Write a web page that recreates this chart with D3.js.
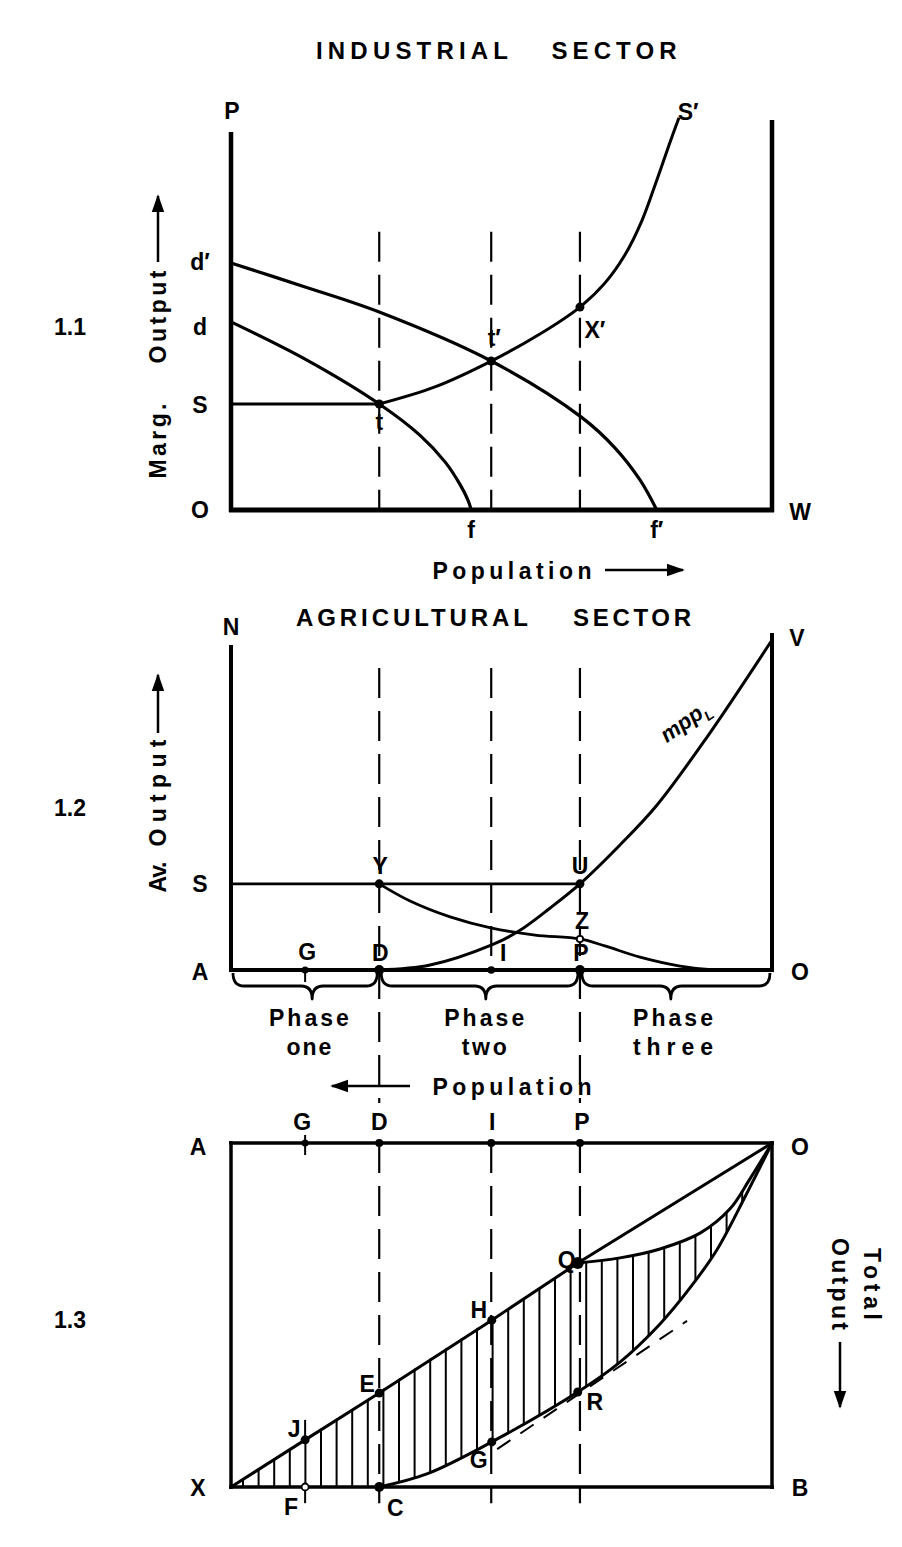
<!DOCTYPE html>
<html><head><meta charset="utf-8">
<script src="https://cdn.jsdelivr.net/npm/d3@7"></script>
<style>
body{margin:0;background:#fff}
svg{display:block}
text{font-family:"Liberation Sans",Arial,sans-serif;font-weight:bold;fill:#000}
</style>
</head><body>
<svg id="c" width="902" height="1547"></svg>
<script>
// ---------------- DATA (population 0-100 left→right, output 0-100) ----------------
const guideX = [27.4, 48.1, 64.5];          // D, I, P
const pointG = 13.7;                        // G
// Panel 1.1 industrial sector
const p1_dPrime = [[0,65.0],[13.7,58.7],[27.4,52.1],[48.1,39.2],[64.7,24.5],[71.0,16.3],[75.6,7.9],[78.7,0]];
const p1_d      = [[0,49.5],[13.7,39.7],[27.4,27.9],[34.9,19.7],[39.6,12.6],[42.3,6.8],[43.8,2.6],[44.4,0]];
const p1_sPrime = [[27.4,27.9],[37.7,32.4],[48.1,39.2],[57.1,46.3],[64.5,53.4],[69.1,59.7],[72.8,67.1],[76.0,76.3],[78.7,86.8],[81.1,96.6],[82.8,103.2]];
const p1_sLevel = 27.9;
const p1_points = [[27.4,27.9],[48.1,39.2],[64.5,53.4]];   // t, t', X'
// Panel 1.2 agricultural sector
const p2_mpp   = [[27.4,0],[36.8,1.5],[48.2,7.6],[53.2,11.8],[59.0,18.8],[64.5,26.1],[71.9,37.9],[78.6,49.7],[88.0,70.6],[100,100]];
const p2_ap    = [[27.4,26.1],[33.1,20.9],[40.5,16.1],[48.2,12.7],[56.2,10.6],[64.5,9.4],[69.1,7.3],[75.6,3.9],[83.0,1.2],[89.4,0],[100,0]];
const p2_sLevel = 26.1;
const p2_phases = [
  {lines:["Phase","one"],   w:[80,45], from:0,    to:27.4, tip:15.0, cx:14.4},
  {lines:["Phase","two"],   w:[80,45], from:27.4, to:64.5, tip:47.1, cx:46.8},
  {lines:["Phase","three"], w:[80,80], from:64.5, to:100,  tip:81.3, cx:81.7}
];
// Panel 1.3 total output (measured downward from O)
const p3_tpp    = [[0,100],[13.7,86.3],[27.4,72.7],[48.2,51.5],[64.1,34.9],[100,0]];
const p3_lower  = [[27.4,100],[36.2,96.2],[48.2,86.9],[64.1,72.4],[71.9,63.7],[79.3,52.6],[84.8,42.2],[89.8,31.1],[95.0,15.7],[97.8,7.0],[100,0]];
const p3_middle = [[64.1,34.9],[71.9,33.4],[79.3,30.8],[86.7,26.2],[92.2,19.2],[95.9,10.5],[100,0]];
const p3_tangent = [[49.2,89.0],[84.3,51.7]];

// ---------------- SCALES ----------------
const svg = d3.select("#c");
svg.append("rect").attr("width",902).attr("height",1547).attr("fill","#fff");
const x  = d3.scaleLinear().domain([0,100]).range([231,772]);
const y1 = d3.scaleLinear().domain([0,100]).range([510,130]);
const y2 = d3.scaleLinear().domain([0,100]).range([970,640]);
const y3 = d3.scaleLinear().domain([0,100]).range([1143,1487]);

const defs = svg.append("defs");
defs.append("marker").attr("id","ah").attr("viewBox","0 0 10 10").attr("refX",9).attr("refY",5)
  .attr("markerWidth",18).attr("markerHeight",18).attr("markerUnits","userSpaceOnUse")
  .attr("orient","auto").append("path").attr("d","M0,1.5L10,5L0,8.5Z").attr("fill","#000");

const curve = ys => d3.line().x(d=>x(d[0])).y(d=>ys(d[1])).curve(d3.curveCatmullRom.alpha(0.5));
const straight = ys => d3.line().x(d=>x(d[0])).y(d=>ys(d[1]));

function ln(x1,y1_,x2,y2_,w,dash){
  const l = svg.append("line").attr("x1",x1).attr("y1",y1_).attr("x2",x2).attr("y2",y2_)
    .attr("stroke","#000").attr("stroke-width",w).attr("stroke-linecap","butt");
  if(dash) l.attr("stroke-dasharray",dash);
  return l;
}
function path(d,w,dash){
  const p = svg.append("path").attr("d",d).attr("fill","none").attr("stroke","#000")
    .attr("stroke-width",w).attr("stroke-linejoin","round");
  if(dash) p.attr("stroke-dasharray",dash);
  return p;
}
function label(t,px,py,size,anchor){
  return svg.append("text").attr("x",px).attr("y",py).attr("font-size",size||23)
    .attr("text-anchor",anchor||"middle").attr("dominant-baseline","central").text(t);
}
function fitText(t,px,py,len,size,rot){
  const el = svg.append("text").attr("font-size",size).attr("text-anchor","middle")
    .attr("dominant-baseline","central").attr("textLength",len).attr("lengthAdjust","spacing").text(t);
  if(rot) el.attr("transform",`translate(${px},${py}) rotate(${rot})`);
  else el.attr("x",px).attr("y",py);
  return el;
}
function dot(px,py,r,open){
  svg.append("circle").attr("cx",px).attr("cy",py).attr("r",r)
    .attr("fill",open?"#fff":"#000").attr("stroke","#000").attr("stroke-width",open?1.8:0);
}
const DASH = "30,13";

// ================= PANEL 1.1 =================
fitText("INDUSTRIAL", 412, 50, 192, 24);
fitText("SECTOR", 614, 50, 125, 24);
label("1.1", 70, 327, 23);
fitText("Marg.", 158, 441, 75, 23, -90);
fitText("Output", 158, 317, 93, 23, -90);
ln(158, 262, 158, 196, 2.5).attr("marker-end","url(#ah)");
ln(x(0), y1(99.5), x(0), y1(0)+2, 4.5);
ln(x(100), y1(102.6), x(100), y1(0)+2, 4.5);
ln(x(0)-2, y1(0), x(100)+2, y1(0), 5);
guideX.forEach(g => ln(x(g), y1(73.2), x(g), y1(0), 2.2, DASH));
ln(x(0), y1(p1_sLevel), x(27.4), y1(p1_sLevel), 3);
path(curve(y1)(p1_dPrime), 3.2);
path(curve(y1)(p1_d), 3.2);
path(curve(y1)(p1_sPrime), 3);
p1_points.forEach(p => dot(x(p[0]), y1(p[1]), 4.5));
label("P", x(0)+1, y1(105));
label("S\u2032", x(84.5), y1(104.7));
label("d\u2032", x(0)-31, y1(65)-1);
label("d", x(0)-31, y1(49.5)+5);
label("S", x(0)-31, y1(p1_sLevel)+1);
label("O", x(0)-31, y1(0));
label("W", x(100)+28, y1(0)+2);
label("t", x(27.4), y1(27.9)+18);
label("t\u2032", x(48.1)+3, y1(39.2)-23);
label("X\u2032", x(64.5)+15, y1(53.4)+23);
label("f", x(44.4), y1(0)+20);
label("f\u2032", x(78.7), y1(0)+20);
fitText("Population", 512, 571, 159, 23);
ln(605, 570, 683, 570, 2.5).attr("marker-end","url(#ah)");

// ================= PANEL 1.2 =================
fitText("AGRICULTURAL", 412, 617, 232, 24);
fitText("SECTOR", 632, 617, 118, 24);
label("1.2", 70, 808, 23);
fitText("Av.", 158, 877, 31, 23, -90);
fitText("Output", 158, 793, 107, 23, -90);
ln(158, 733, 158, 675, 2.5).attr("marker-end","url(#ah)");
ln(x(0), y2(98.5), x(0), y2(0)+2, 4);
ln(x(100), y2(102.1), x(100), y2(0)+2, 4);
ln(x(0)-2, y2(0), x(100)+2, y2(0), 4);
ln(x(guideX[0]), y2(91.5), x(guideX[0]), y2(-40.3), 2.2, DASH);
ln(x(guideX[1]), y2(91.5), x(guideX[1]), y2(0), 2.2, DASH);
ln(x(guideX[2]), y2(91.5), x(guideX[2]), y2(-40.3), 2.2, DASH);
ln(x(0), y2(p2_sLevel), x(64.5), y2(p2_sLevel), 2.8);
path(curve(y2)(p2_mpp), 3);
path(curve(y2)(p2_ap), 2.8);
dot(x(27.4), y2(p2_sLevel), 4.5);
dot(x(64.5), y2(p2_sLevel), 4.5);
dot(x(64.5), y2(9.4), 3.2, true);
dot(x(pointG), y2(0), 3.5);
ln(x(pointG), y2(0)-2, x(pointG), y2(0)+12, 2);
guideX.forEach((g,i) => dot(x(g), y2(0), i===1?3.8:5));
p2_phases.forEach(ph => {
  const x1 = x(ph.from)+2, x2 = x(ph.to)-2, xt = x(ph.tip), y0 = y2(0)+3, h = 26, r = 11;
  const m = y0 + h/2;
  const d = `M${x1},${y0} Q${x1},${m} ${x1+r},${m} L${xt-r},${m} Q${xt},${m} ${xt},${y0+h} ` +
            `Q${xt},${m} ${xt+r},${m} L${x2-r},${m} Q${x2},${m} ${x2},${y0}`;
  path(d, 2.8);
  fitText(ph.lines[0], x(ph.cx), 1018, ph.w[0], 23);
  fitText(ph.lines[1], x(ph.cx), 1047, ph.w[1], 23);
});
svg.append("text").attr("transform",`translate(${x(84.7)},${y2(73.5)}) rotate(-35)`)
  .attr("font-size",22).attr("font-style","italic").attr("text-anchor","middle")
  .attr("font-family","DejaVu Sans").attr("font-weight","bold")
  .html('mpp<tspan font-size="14" dy="6">L</tspan>');
label("N", x(0), y2(103.9));
label("V", x(100)+25, y2(100.6));
label("S", x(0)-31, y2(p2_sLevel));
label("A", x(0)-31, y2(0)+2);
label("O", x(100)+28, y2(0)+2);
label("Y", x(27.4)+1, y2(p2_sLevel)-18);
label("U", x(64.5), y2(p2_sLevel)-18);
label("Z", x(64.5)+2, y2(9.4)-18);
label("G", x(pointG)+2, y2(0)-18);
label("D", x(guideX[0])+1, y2(0)-17);
label("I", x(guideX[1])+12, y2(0)-17);
label("P", x(guideX[2])+1, y2(0)-17);
fitText("Population", 512, 1087, 159, 23);
ln(410, 1086, 332, 1086, 2.5).attr("marker-end","url(#ah)");

// ================= PANEL 1.3 =================
label("1.3", 70, 1320, 23);
const upperD = "M" + x(0) + "," + y3(100) + "L" + x(64.1) + "," + y3(34.9) +
  "L" + curve(y3)(p3_middle).slice(1) + "L" + x(100) + "," + y3(100) + "L" + x(0) + "," + y3(100) + "Z";
const lowerD = "M" + x(0) + "," + y3(100) + "L" + curve(y3)(p3_lower).slice(1) +
  "L" + x(0) + "," + y3(0) + "Z";
defs.append("clipPath").attr("id","cu").append("path").attr("d",upperD);
defs.append("clipPath").attr("id","cl").append("path").attr("d",lowerD);
const hg = svg.append("g").attr("clip-path","url(#cu)").append("g").attr("clip-path","url(#cl)");
d3.range(x(0)+12, x(100), 15.6).forEach(hx => {
  hg.append("line").attr("x1",hx).attr("x2",hx).attr("y1",y3(0)).attr("y2",y3(100))
    .attr("stroke","#000").attr("stroke-width",2);
});
ln(x(0), y3(0)-2, x(0), y3(100)+2, 3.5);
ln(x(100), y3(0)-2, x(100), y3(100)+2, 3.5);
ln(x(0)-2, y3(0), x(100)+2, y3(0), 3.5);
ln(x(0)-2, y3(100), x(100)+2, y3(100), 3.5);
guideX.forEach(g => ln(x(g), y3(0), x(g), y3(104.7), 2.2, DASH));
path(straight(y3)(p3_tpp), 3);
path(curve(y3)(p3_middle), 3);
path(curve(y3)(p3_lower), 3);
path(straight(y3)(p3_tangent), 2, "16,12");
dot(x(pointG), y3(0), 3.5);
ln(x(pointG), y3(0)-8, x(pointG), y3(0)+12, 2);
guideX.forEach(g => dot(x(g), y3(0), 4));
dot(x(13.7), y3(86.3), 4.5); ln(x(13.7), y3(86.3)-20, x(13.7), y3(86.3), 2);
dot(x(27.4), y3(72.7), 4.5);
dot(x(48.2), y3(51.5), 4.5);
dot(x(64.1), y3(34.9), 6);
dot(x(48.2), y3(86.9), 4.5);
dot(x(64.1), y3(72.4), 4.5);
dot(x(13.7), y3(100), 3.5, true); ln(x(13.7), y3(100)+3, x(13.7), y3(104.7), 2);
dot(x(27.4), y3(100), 5);
label("G", x(pointG)-3, y3(0)-21);
label("D", x(guideX[0]), y3(0)-21);
label("I", x(guideX[1])+1, y3(0)-21);
label("P", x(guideX[2])+2, y3(0)-21);
label("A", x(0)-33, y3(0)+4);
label("O", x(100)+28, y3(0)+4);
label("Q", x(64.1)-11, y3(34.9)-3);
label("H", x(48.2)-13, y3(51.5)-10);
label("E", x(27.4)-12, y3(72.7)-9);
label("J", x(13.7)-11, y3(86.3)-11);
label("G", x(48.2)-13, y3(86.9)+18);
label("R", x(64.1)+17, y3(72.4)+10);
label("X", x(0)-33, y3(100)+1);
label("B", x(100)+28, y3(100)+1);
label("F", x(13.7)-14, y3(100)+20);
label("C", x(27.4)+16, y3(100)+21);
fitText("Total", 872, 1284, 72, 23, 90);
fitText("Output", 840, 1284, 92, 23, 90);
ln(840, 1342, 840, 1407, 2.5).attr("marker-end","url(#ah)");
</script>
</body></html>
